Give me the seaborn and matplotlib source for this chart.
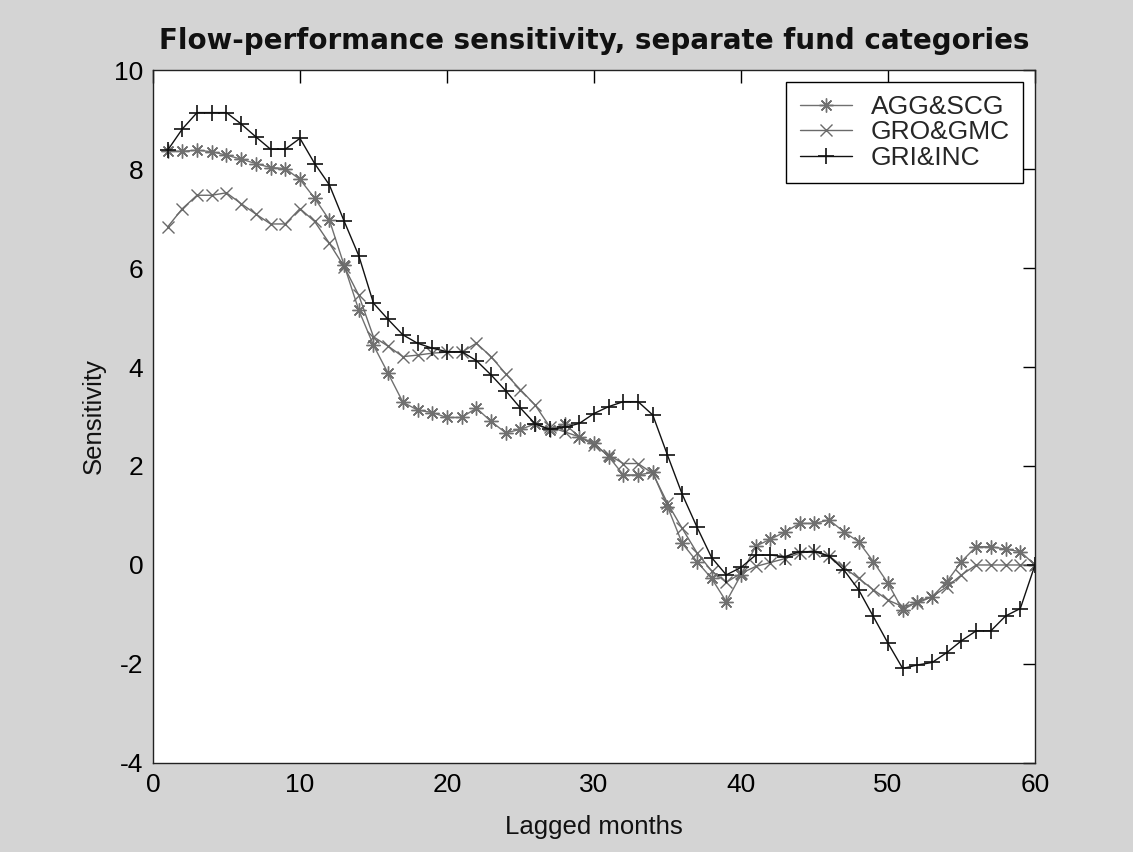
import numpy as np
import pandas as pd
import matplotlib
matplotlib.use("Agg")
import matplotlib.pyplot as plt
import seaborn as sns

months = list(range(1, 61))

agg_scg = [8.36, 8.36, 8.38, 8.35, 8.28, 8.20, 8.11, 8.03, 8.01, 7.79,
           7.41, 6.97, 6.06, 5.15, 4.44, 3.87, 3.29, 3.13, 3.08, 2.98,
           2.98, 3.17, 2.90, 2.67, 2.74, 2.85, 2.73, 2.85, 2.59, 2.46,
           2.19, 1.82, 1.82, 1.87, 1.18, 0.44, 0.07, -0.27, -0.74, -0.20,
           0.38, 0.52, 0.67, 0.84, 0.84, 0.91, 0.67, 0.47, 0.07, -0.37,
           -0.91, -0.74, -0.64, -0.34, 0.07, 0.37, 0.37, 0.32, 0.27, 0.00]

gro_gmc = [6.83, 7.20, 7.47, 7.47, 7.52, 7.30, 7.09, 6.89, 6.89, 7.20,
           6.94, 6.50, 6.03, 5.45, 4.61, 4.42, 4.21, 4.24, 4.28, 4.30,
           4.30, 4.48, 4.21, 3.86, 3.54, 3.23, 2.79, 2.69, 2.59, 2.42,
           2.22, 2.05, 2.05, 1.85, 1.25, 0.74, 0.25, -0.12, -0.35, -0.17,
           -0.03, 0.05, 0.13, 0.24, 0.29, 0.18, -0.05, -0.27, -0.50, -0.71,
           -0.84, -0.77, -0.64, -0.44, -0.20, 0.00, 0.00, 0.00, 0.00, 0.00]

gri_inc = [8.38, 8.81, 9.14, 9.14, 9.14, 8.91, 8.65, 8.40, 8.40, 8.62,
           8.11, 7.68, 6.95, 6.25, 5.29, 4.96, 4.65, 4.48, 4.38, 4.31,
           4.31, 4.13, 3.84, 3.52, 3.17, 2.85, 2.74, 2.78, 2.86, 3.06,
           3.20, 3.30, 3.30, 3.03, 2.22, 1.43, 0.77, 0.15, -0.20, -0.05,
           0.20, 0.20, 0.17, 0.27, 0.27, 0.18, -0.10, -0.50, -1.04, -1.58,
           -2.09, -2.02, -1.97, -1.77, -1.53, -1.33, -1.33, -1.03, -0.88, 0.00]

series_names = ["AGG&SCG", "GRO&GMC", "GRI&INC"]
x_ticks = [0, 10, 20, 30, 40, 50, 60]
y_ticks = [-4, -2, 0, 2, 4, 6, 8, 10]

sns.set_style("white")
plt.rcParams["font.family"] = ["Liberation Sans", "DejaVu Sans"]
plt.rcParams["axes.unicode_minus"] = False

bg = "#d4d4d4"
fig = plt.figure(figsize=(11.33, 8.52), dpi=100, facecolor=bg)
ax = fig.add_axes([0.135, 0.1045, 0.7785, 0.8133])
ax.set_facecolor("white")

styles = [
    dict(color="#707070", marker=(8, 2, 0), markersize=10, markeredgewidth=1.0),
    dict(color="#6a6a6a", marker="x", markersize=8, markeredgewidth=1.0),
    dict(color="#111111", marker="+", markersize=11, markeredgewidth=1.2),
]
data = [agg_scg, gro_gmc, gri_inc]
for name, vals, st in zip(series_names, data, styles):
    df = pd.DataFrame({"month": months, "val": vals})
    sns.lineplot(data=df, x="month", y="val", ax=ax, label=name,
                 color=st["color"], marker=st["marker"],
                 markersize=st["markersize"], markeredgewidth=st["markeredgewidth"],
                 markeredgecolor=st["color"], linewidth=1.0)

ax.set_xlim(0, 60)
ax.set_ylim(-4, 10)
ax.set_xticks(x_ticks)
ax.set_yticks(y_ticks)
ax.tick_params(direction="in", top=True, right=True, length=9, width=1,
               labelsize=19, colors="black", pad=7)
for s in ax.spines.values():
    s.set_color("#222222")
    s.set_linewidth(1.0)
    s.set_visible(True)

ax.set_xlabel("Lagged months", fontsize=18.5, labelpad=13, color="#111111")
ax.set_ylabel("Sensitivity", fontsize=18.5, labelpad=6, color="#111111")
ax.set_title("Flow-performance sensitivity, separate fund categories",
             fontsize=20, fontweight="bold", pad=15,
             family=["DejaVu Sans"], color="#111111")

leg = ax.legend(loc="upper right", fontsize=19, frameon=True, fancybox=False,
                edgecolor="black", framealpha=1, borderaxespad=0.45,
                handlelength=2.0, handletextpad=0.7, borderpad=0.5,
                labelspacing=0.05)
leg.get_frame().set_linewidth(1.0)

fig.savefig("out.png", dpi=100, facecolor=bg)
